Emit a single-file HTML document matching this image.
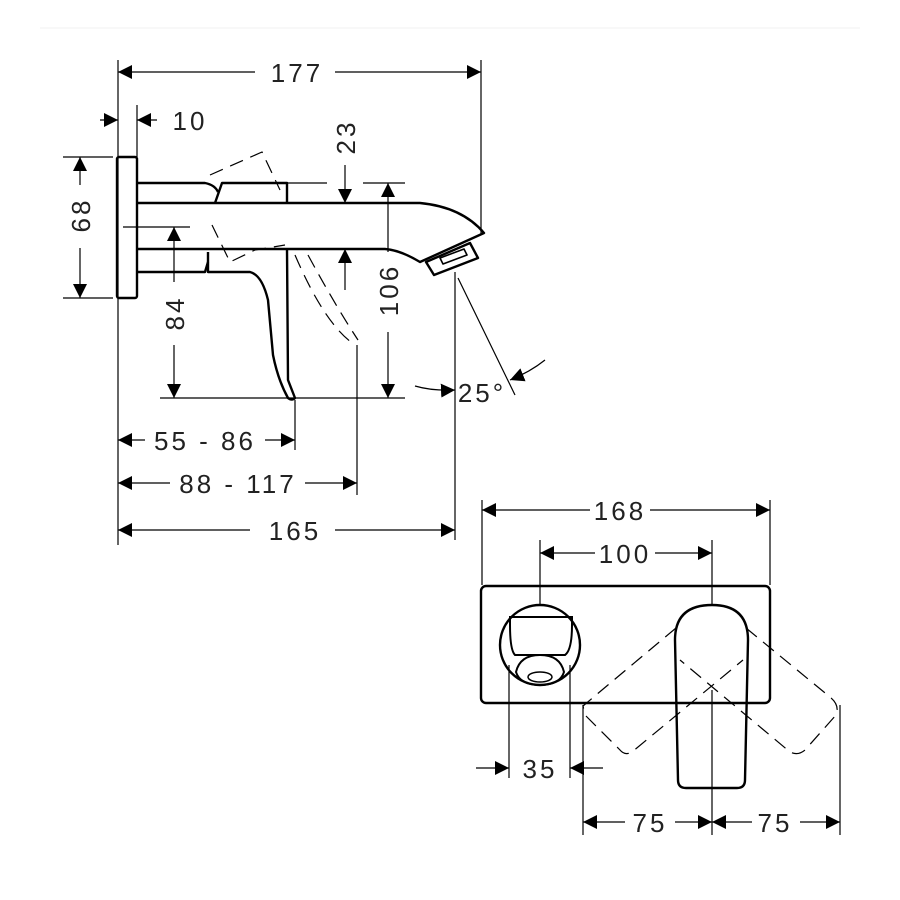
<!DOCTYPE html>
<html><head><meta charset="utf-8"><style>
html,body{margin:0;padding:0;background:#fff;}
svg{display:block}
text{font-family:"Liberation Sans",sans-serif;font-size:26px;fill:#222;letter-spacing:3px}
</style></head><body>
<svg width="900" height="900" viewBox="0 0 900 900" xmlns="http://www.w3.org/2000/svg">
<defs>
<marker id="a" viewBox="0 0 10 10" refX="10" refY="5" markerWidth="14" markerHeight="14" markerUnits="userSpaceOnUse" orient="auto-start-reverse"><path d="M0,0L10,5L0,10z" fill="#000"/></marker>
</defs>
<line x1="40" y1="28" x2="860" y2="28" stroke="#f2f2f2" stroke-width="1"/>
<g stroke="#000" stroke-width="1.2" fill="none">
<!-- extension lines side view -->
<line x1="118" y1="60" x2="118" y2="545"/>
<line x1="481" y1="60" x2="481" y2="235"/>
<line x1="137" y1="105" x2="137" y2="157"/>
<line x1="63" y1="157" x2="113" y2="157"/>
<line x1="63" y1="298" x2="113" y2="298"/>
<line x1="123" y1="227" x2="190" y2="227"/>
<line x1="160" y1="398" x2="405" y2="398"/>
<line x1="287" y1="183" x2="327" y2="183"/>
<line x1="363" y1="183" x2="405" y2="183"/>
<line x1="295" y1="400" x2="295" y2="450"/>
<line x1="357" y1="345" x2="357" y2="495"/>
<line x1="455" y1="272" x2="455" y2="540"/>
<line x1="458" y1="278" x2="515" y2="395"/>
<!-- dims -->
<line x1="118" y1="72" x2="255" y2="72" marker-start="url(#a)"/>
<line x1="335" y1="72" x2="481" y2="72" marker-end="url(#a)"/>
<line x1="100" y1="120" x2="118" y2="120" marker-end="url(#a)"/>
<line x1="137" y1="120" x2="157" y2="120" marker-start="url(#a)"/>
<line x1="80" y1="157" x2="80" y2="185" marker-start="url(#a)"/>
<line x1="80" y1="248" x2="80" y2="298" marker-end="url(#a)"/>
<line x1="345" y1="165" x2="345" y2="203" marker-end="url(#a)"/>
<line x1="345" y1="249" x2="345" y2="290" marker-start="url(#a)"/>
<line x1="388" y1="183" x2="388" y2="252" marker-start="url(#a)"/>
<line x1="388" y1="332" x2="388" y2="398" marker-end="url(#a)"/>
<line x1="174" y1="227" x2="174" y2="282" marker-start="url(#a)"/>
<line x1="174" y1="345" x2="174" y2="398" marker-end="url(#a)"/>
<path d="M415,386 Q432,391 455,390" marker-end="url(#a)"/>
<path d="M545,360 Q530,372 510,380" marker-end="url(#a)"/>
<line x1="118" y1="440" x2="145" y2="440" marker-start="url(#a)"/>
<line x1="265" y1="440" x2="295" y2="440" marker-end="url(#a)"/>
<line x1="118" y1="483" x2="170" y2="483" marker-start="url(#a)"/>
<line x1="305" y1="483" x2="357" y2="483" marker-end="url(#a)"/>
<line x1="118" y1="530" x2="250" y2="530" marker-start="url(#a)"/>
<line x1="335" y1="530" x2="455" y2="530" marker-end="url(#a)"/>
<!-- dashed side -->
<g stroke-dasharray="14,8">
<path d="M210,175 L262,152 L280,190"/>
<path d="M212,225 L230,262 L255,250 L285,245"/>
<path d="M295,255 Q325,325 355,345"/>
<path d="M308,255 Q335,305 358,340"/>
</g>
</g>
<g stroke="#000" stroke-width="2.4" fill="none" stroke-linejoin="round">
<rect x="117" y="157" width="20" height="141" rx="2"/>
<path d="M137,183 L205,183 Q215,185 218,192"/>
<path d="M215,203 L222,183 L287,183 L287,203"/>
<path d="M137,203 L420,203 Q462,207 484,233 L420,262 Q400,250 385,249 L137,249"/>
<path d="M137,272 L205,272 L208,262"/>
<path d="M208,252 L208,272 L250,272 Q262,275 268,300 L273,355 Q278,380 288,398 Q292,401 295,398 L288,380 L287,249"/>
<path d="M426,262 L470,243 L478,258 L434,275 Z"/>
<path d="M440,258 L464,249 L467,255 L443,264 Z" stroke-width="1.6"/>
</g>
<g>
<text x="297" y="82" text-anchor="middle">177</text>
<text x="190" y="130" text-anchor="middle">10</text>
<text transform="translate(90,215) rotate(-90)" text-anchor="middle">68</text>
<text transform="translate(355,137) rotate(-90)" text-anchor="middle">23</text>
<text transform="translate(398,290) rotate(-90)" text-anchor="middle">106</text>
<text transform="translate(184,313) rotate(-90)" text-anchor="middle">84</text>
<text x="482" y="402" text-anchor="middle">25°</text>
<text x="205" y="450" text-anchor="middle">55 - 86</text>
<text x="238" y="493" text-anchor="middle">88 - 117</text>
<text x="295" y="540" text-anchor="middle">165</text>
</g>
<!-- front view -->
<g stroke="#000" stroke-width="1.2" fill="none">
<line x1="482" y1="500" x2="482" y2="585"/>
<line x1="770" y1="500" x2="770" y2="585"/>
<line x1="540" y1="540" x2="540" y2="605"/>
<line x1="712" y1="540" x2="712" y2="605"/>
<line x1="712" y1="690" x2="712" y2="835"/>
<line x1="509" y1="665" x2="509" y2="778"/>
<line x1="570" y1="665" x2="570" y2="778"/>
<line x1="583" y1="705" x2="583" y2="835"/>
<line x1="840" y1="705" x2="840" y2="835"/>
<line x1="482" y1="510" x2="590" y2="510" marker-start="url(#a)"/>
<line x1="650" y1="510" x2="770" y2="510" marker-end="url(#a)"/>
<line x1="540" y1="553" x2="595" y2="553" marker-start="url(#a)"/>
<line x1="655" y1="553" x2="712" y2="553" marker-end="url(#a)"/>
<line x1="476" y1="768" x2="509" y2="768" marker-end="url(#a)"/>
<line x1="570" y1="768" x2="603" y2="768" marker-start="url(#a)"/>
<line x1="583" y1="822" x2="625" y2="822" marker-start="url(#a)"/>
<line x1="675" y1="822" x2="712" y2="822" marker-end="url(#a)"/>
<line x1="712" y1="822" x2="752" y2="822" marker-start="url(#a)"/>
<line x1="800" y1="822" x2="840" y2="822" marker-end="url(#a)"/>
<g stroke-dasharray="14,8">
<path d="M676,628 L596,695 L583,706 L585,715 L620,750 Q625,756 632,752 L743,660"/>
<path d="M746,628 L830,697 Q840,705 836,715 L805,750 Q798,756 790,752 L680,660"/>
</g>
</g>
<g stroke="#000" stroke-width="2.4" fill="none">
<rect x="481" y="586" width="289" height="117" rx="5"/>
<circle cx="540" cy="645" r="40"/>
<path d="M510,625 L510,617 L572,617 L572,625 Q572,650 565,655 L515,655 Q510,650 510,625Z" stroke-width="2"/>
<path d="M516,672 Q520,655 540,655 Q560,655 564,672 Q560,685 540,685 Q520,685 516,672Z" stroke-width="2"/>
<ellipse cx="540" cy="677" rx="12" ry="5" stroke-width="1.5"/>
<path d="M675,640 Q675,605 712,605 Q748,605 748,640 L745,780 Q745,788 737,788 L686,788 Q678,788 678,780 Z"/>
</g>
<g>
<text x="620" y="520" text-anchor="middle">168</text>
<text x="625" y="563" text-anchor="middle">100</text>
<text x="540" y="778" text-anchor="middle">35</text>
<text x="650" y="832" text-anchor="middle">75</text>
<text x="775" y="832" text-anchor="middle">75</text>
</g>
</svg>
</body></html>
